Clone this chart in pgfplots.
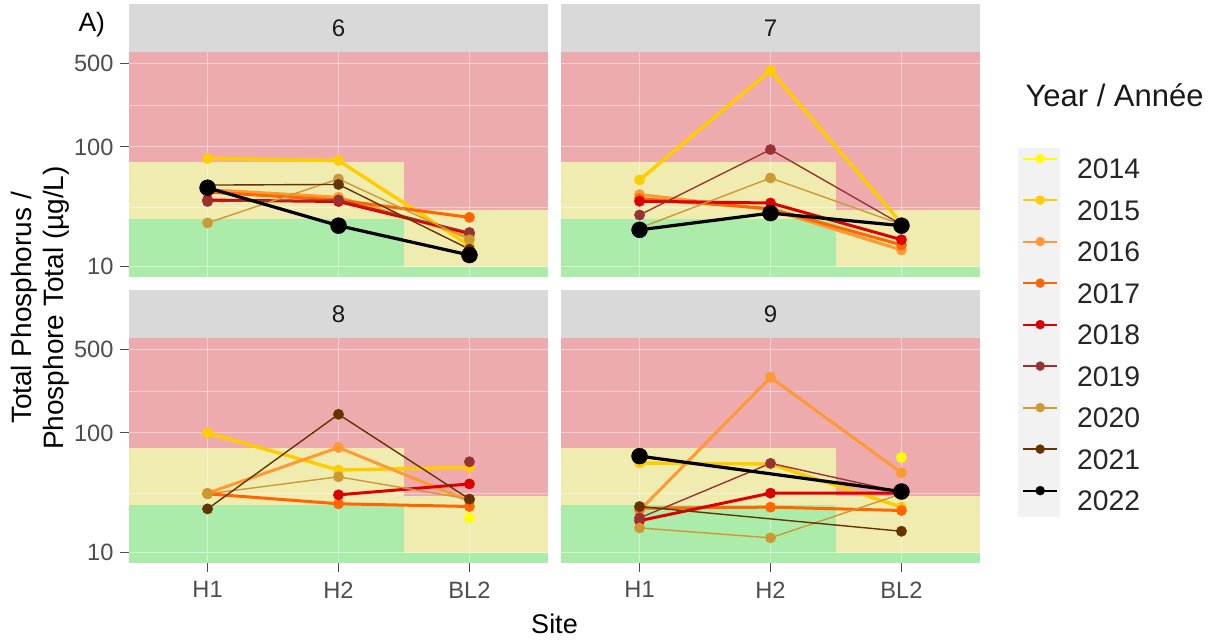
\documentclass[border=0pt]{standalone}
\usepackage{fontspec}
\setmainfont{Liberation Sans}
\usepackage{pgfplots}
\pgfplotsset{compat=1.18}

\definecolor{bandred}{RGB}{238,171,173}
\definecolor{bandyel}{RGB}{240,236,175}
\definecolor{bandgrn}{RGB}{172,236,170}
\definecolor{stripgray}{RGB}{217,217,217}
\definecolor{keygray}{RGB}{242,242,242}
\definecolor{tickgray}{RGB}{77,77,77}
\definecolor{c2014}{RGB}{255,255,0}
\definecolor{c2015}{RGB}{255,204,0}
\definecolor{c2016}{RGB}{255,153,51}
\definecolor{c2017}{RGB}{255,102,0}
\definecolor{c2018}{RGB}{221,0,0}
\definecolor{c2019}{RGB}{153,51,51}
\definecolor{c2020}{RGB}{204,153,51}
\definecolor{c2021}{RGB}{102,51,0}
\definecolor{c2022}{RGB}{0,0,0}

\tikzset{
  yr/.style n args={3}{draw=#1, line width=#2, mark=*, mark size=#3, mark options={solid, fill=#1, draw=#1, line width=0.4pt}},
  s2014/.style={yr={c2014}{3pt}{5.2pt}},
  s2015/.style={yr={c2015}{3.4pt}{5.2pt}},
  s2016/.style={yr={c2016}{3pt}{5.2pt}},
  s2017/.style={yr={c2017}{3pt}{5.2pt}},
  s2018/.style={yr={c2018}{3pt}{5.2pt}},
  s2019/.style={yr={c2019}{1.4pt}{5.2pt}},
  s2020/.style={yr={c2020}{1.4pt}{5.2pt}},
  s2021/.style={yr={c2021}{1.4pt}{5.2pt}},
  s2022/.style={yr={c2022}{3.2pt}{8pt}},
  lk/.style={yr={#1}{2pt}{4.5pt}},
}

\pgfplotsset{
  panel/.style={
    scale only axis, width=419pt, height=225pt,
    xmin=0.4, xmax=3.6, ymin=8.2, ymax=620,
    axis line style={draw=none}, clip=false,
    xminorticks=false, yminorticks=false,
    tick style={draw=tickgray, line width=1pt},
    major tick length=9pt, tick align=outside,
    ticklabel style={font=\fontsize{23.6}{28}\selectfont, text=tickgray},
    yticklabel style={xshift=-3pt},
    xticklabel style={yshift=-6pt},
    xtick pos=left, ytick pos=left,
    xtick=\empty, ytick=\empty,
  },
  leftpanel/.style={ytick={10,100,500}, yticklabels={10,100,500}},
  bottompanel/.style={xtick={1,2,3}, xticklabels={H1,H2,BL2}},
}

\newcommand{\bands}[1]{%
  \fill[bandgrn] (axis cs:0.4,8.2) rectangle (axis cs:3.6,10);
  \fill[bandgrn] (axis cs:0.4,10) rectangle (axis cs:2.5,25);
  \fill[bandyel] (axis cs:0.4,25) rectangle (axis cs:2.5,75);
  \fill[bandred] (axis cs:0.4,75) rectangle (axis cs:2.5,620);
  \fill[bandyel] (axis cs:2.5,10) rectangle (axis cs:3.6,30);
  \fill[bandred] (axis cs:2.5,30) rectangle (axis cs:3.6,620);
  \draw[white, opacity=0.45, line width=1.1pt] (axis cs:0.4,10) -- (axis cs:3.6,10);
  \draw[white, opacity=0.45, line width=1.1pt] (axis cs:0.4,100) -- (axis cs:3.6,100);
  \draw[white, opacity=0.45, line width=1.1pt] (axis cs:0.4,500) -- (axis cs:3.6,500);
  \draw[white, opacity=0.45, line width=0.55pt] (axis cs:0.4,31.62) -- (axis cs:3.6,31.62);
  \draw[white, opacity=0.45, line width=0.55pt] (axis cs:0.4,223.6) -- (axis cs:3.6,223.6);
  \draw[white, opacity=0.45, line width=1.1pt] (axis cs:1,8.2) -- (axis cs:1,620);
  \draw[white, opacity=0.45, line width=1.1pt] (axis cs:2,8.2) -- (axis cs:2,620);
  \draw[white, opacity=0.45, line width=1.1pt] (axis cs:3,8.2) -- (axis cs:3,620);
  \fill[stripgray] (rel axis cs:0,1) rectangle ([yshift=48pt]rel axis cs:1,1);
  \node[text=black!90, font=\fontsize{24}{28}\selectfont] at ([yshift=24pt]rel axis cs:0.5,1) {#1};
}

\begin{document}
\begin{tikzpicture}
\path[use as bounding box] (0,0) rectangle (1225pt,643pt);
\fill[keygray] (1018pt,126pt) rectangle (1060pt,495pt);

% ---------------- Panel 6 ----------------
\begin{axis}[panel, ymode=log, leftpanel, at={(129pt,366pt)}, anchor=south west]
\bands{6}
\addplot[s2015, forget plot] coordinates {(1,80) (2,77) (3,15)};
\addplot[s2016, forget plot] coordinates {(1,44) (2,38) (3,18)};
\addplot[s2017, forget plot] coordinates {(1,42) (2,36) (3,25.8)};
\addplot[s2018, forget plot] coordinates {(1,36) (2,35) (3,19)};
\addplot[s2019, forget plot] coordinates {(1,35) (2,36) (3,19.3)};
\addplot[s2020, forget plot] coordinates {(1,23.2) (2,54) (3,16.8)};
\addplot[s2021, forget plot] coordinates {(1,48) (2,48.6) (3,14)};
\addplot[s2022, forget plot] coordinates {(1,45.6) (2,22) (3,12.5)};
\end{axis}

% ---------------- Panel 7 ----------------
\begin{axis}[panel, ymode=log, at={(561pt,366pt)}, anchor=south west,
  legend image code/.code={\draw[mark repeat=2, mark phase=2, #1] plot coordinates {(0pt,10pt) (17pt,10pt) (34pt,10pt)};},
  legend style={at={(1.1002,0.547)}, anchor=north west, draw=none, fill=none,
    inner sep=0pt, font=\fontsize{28.3}{34}\selectfont, text=black!85,
    row sep=17pt, column sep=19pt,
    nodes={inner sep=0pt, text height=20pt, text depth=0pt}},
  legend cell align=left]
\bands{7}
\addplot[s2015, forget plot] coordinates {(1,53) (2,435) (3,23)};
\addplot[s2016, forget plot] coordinates {(1,40) (2,30) (3,13.8)};
\addplot[s2017, forget plot] coordinates {(1,37) (2,30.5) (3,15.2)};
\addplot[s2018, forget plot] coordinates {(1,35.2) (2,34) (3,16.8)};
\addplot[s2019, forget plot] coordinates {(1,27) (2,95) (3,22.5)};
\addplot[s2020, forget plot] coordinates {(1,21) (2,55) (3,22.5)};
\addplot[s2022, forget plot] coordinates {(1,20.3) (2,28) (3,22)};
\addlegendimage{lk=c2014}
\addlegendentry{2014}
\addlegendimage{lk=c2015}
\addlegendentry{2015}
\addlegendimage{lk=c2016}
\addlegendentry{2016}
\addlegendimage{lk=c2017}
\addlegendentry{2017}
\addlegendimage{lk=c2018}
\addlegendentry{2018}
\addlegendimage{lk=c2019}
\addlegendentry{2019}
\addlegendimage{lk=c2020}
\addlegendentry{2020}
\addlegendimage{lk=c2021}
\addlegendentry{2021}
\addlegendimage{lk=c2022}
\addlegendentry{2022}
\end{axis}

% ---------------- Panel 8 ----------------
\begin{axis}[panel, ymode=log, leftpanel, bottompanel, at={(129pt,80pt)}, anchor=south west]
\bands{8}
\addplot[s2014, forget plot] coordinates {(3,19.5)};
\addplot[s2015, forget plot] coordinates {(1,100) (2,49) (3,51.6)};
\addplot[s2016, forget plot] coordinates {(1,31.4) (2,75.5) (3,27)};
\addplot[s2017, forget plot] coordinates {(1,31) (2,25.6) (3,24.3)};
\addplot[s2018, forget plot] coordinates {(2,30.4) (3,37.5)};
\addplot[s2019, forget plot] coordinates {(3,57.4)};
\addplot[s2020, forget plot] coordinates {(1,31) (2,43) (3,28)};
\addplot[s2021, forget plot] coordinates {(1,23.2) (2,143) (3,28)};
\end{axis}

% ---------------- Panel 9 ----------------
\begin{axis}[panel, ymode=log, bottompanel, at={(561pt,80pt)}, anchor=south west]
\bands{9}
\addplot[s2014, forget plot] coordinates {(3,62.4)};
\addplot[s2015, forget plot] coordinates {(1,56) (2,55) (3,24)};
\addplot[s2016, forget plot] coordinates {(1,22.5) (2,291) (3,46.5)};
\addplot[s2017, forget plot] coordinates {(1,23.5) (2,24) (3,22.5)};
\addplot[s2018, forget plot] coordinates {(1,18.5) (2,31.4) (3,31.4)};
\addplot[s2019, forget plot] coordinates {(1,19.5) (2,55.7) (3,32)};
\addplot[s2020, forget plot] coordinates {(1,16.1) (2,13.3) (3,31)};
\addplot[s2021, forget plot] coordinates {(1,24.3) (3,15.1)};
\addplot[s2022, forget plot] coordinates {(1,64) (3,32.4)};
\end{axis}

% ---------------- Titles ----------------
\node[anchor=base west, font=\fontsize{26.5}{30}\selectfont] at (75pt,611pt) {A)};
\node[anchor=base west, font=\fontsize{31}{36}\selectfont, text=black!90] at (1022pt,536pt) {Year / Année};
\node[anchor=base, font=\fontsize{27}{32}\selectfont] at (554.5pt,10pt) {Site};
\node[anchor=base, rotate=90, font=\fontsize{28}{32}\selectfont] at (31.7pt,335pt) {Total Phosphorus /};
\node[anchor=base, rotate=90, font=\fontsize{28}{32}\selectfont] at (63.3pt,335pt) {Phosphore Total (µg/L)};
\end{tikzpicture}
\end{document}
